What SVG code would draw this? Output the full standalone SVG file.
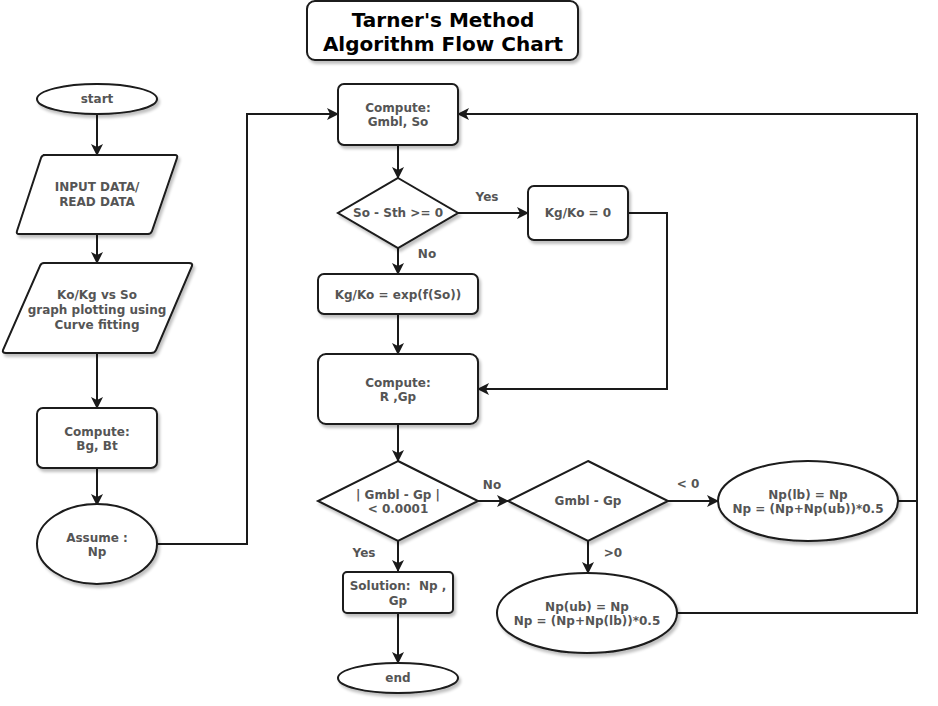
<svg xmlns="http://www.w3.org/2000/svg" width="938" height="706" viewBox="0 0 938 706">
<defs>
<filter id="sh" x="-10%" y="-10%" width="130%" height="140%">
<feGaussianBlur in="SourceAlpha" stdDeviation="1.5"/>
<feOffset dx="2" dy="3" result="b"/>
<feComponentTransfer><feFuncA type="linear" slope="0.25"/></feComponentTransfer>
<feMerge><feMergeNode/><feMergeNode in="SourceGraphic"/></feMerge>
</filter>
<marker id="ah" viewBox="0 0 12 12" refX="11" refY="6" markerWidth="12" markerHeight="12" markerUnits="userSpaceOnUse" orient="auto">
<path d="M0,0 L12,6 L0,12 L3,6 Z" fill="#1a1a1a"/>
</marker>
</defs>
<style>
.s{fill:#fff;stroke:#1a1a1a;stroke-width:2;filter:url(#sh)}
.t{font-family:"DejaVu Sans",Verdana,sans-serif;font-weight:bold;font-size:12px;fill:#555;text-anchor:middle}
.lb{font-family:"DejaVu Sans",Verdana,sans-serif;font-weight:bold;font-size:12px;fill:#555;text-anchor:middle}
.c{fill:none;stroke:#1a1a1a;stroke-width:2}
.a{marker-end:url(#ah)}
.ti{font-family:"DejaVu Sans",Verdana,sans-serif;font-weight:bold;font-size:20px;fill:#000;text-anchor:middle}
</style>
<rect width="938" height="706" fill="#fff"/>
<g id="title">
<rect class="s" x="307" y="1" width="271" height="59" rx="8"/>
<text class="ti" x="443" y="27">Tarner's Method</text>
<text class="ti" x="443" y="51">Algorithm Flow Chart</text>
</g>
<g id="connectors">
<path class="c a" d="M97,114 V155"/>
<path class="c a" d="M97,235 V263"/>
<path class="c a" d="M97,353 V408"/>
<path class="c a" d="M97,468 V505"/>
<path class="c a" d="M157,544 H247 V114 H338"/>
<path class="c a" d="M398,145 V178"/>
<path class="c a" d="M458,213 H528"/>
<path class="c a" d="M628,213 H667 V389 H478"/>
<path class="c a" d="M398,247 V274"/>
<path class="c a" d="M398,314 V354"/>
<path class="c a" d="M398,424 V461"/>
<path class="c a" d="M478,501 H508"/>
<path class="c a" d="M668,501 H718"/>
<path class="c a" d="M588,541 V573"/>
<path class="c a" d="M398,541 V571"/>
<path class="c a" d="M398,613 V663"/>
<path class="c" d="M898,501 H917"/>
<path class="c a" d="M677,613 H917 V114 H458"/>
<text class="lb" x="487" y="201">Yes</text>
<text class="lb" x="427" y="258">No</text>
<text class="lb" x="492" y="489">No</text>
<text class="lb" x="688" y="488">&lt; 0</text>
<text class="lb" x="613" y="557">&gt;0</text>
<text class="lb" x="364" y="557">Yes</text>
</g>
<g id="start">
<ellipse class="s" cx="97" cy="99" rx="60" ry="15"/>
<text class="t" x="97" y="103">start</text>
</g>
<g id="input">
<path class="s" d="M43,155 H175 Q178,155 177,158 L152,231 Q151,234 148,234 H19 Q16,234 17,231 L41,158 Q42,155 45,155 Z"/>
<text class="t" x="97" y="191">INPUT DATA/</text>
<text class="t" x="97" y="206">READ DATA</text>
</g>
<g id="curvefit">
<path class="s" d="M44,263 H189 Q193,263 192,266 L156,350 Q155,353 151,353 H6 Q2,353 3,350 L40,266 Q41,263 44,263 Z"/>
<text class="t" x="97" y="299">Ko/Kg vs So</text>
<text class="t" x="97" y="314">graph plotting using</text>
<text class="t" x="97" y="329">Curve fitting</text>
</g>
<g id="bgbt">
<rect class="s" x="37" y="408" width="120" height="60" rx="6"/>
<text class="t" x="97" y="436">Compute:</text>
<text class="t" x="97" y="450">Bg, Bt</text>
</g>
<g id="assume">
<ellipse class="s" cx="97" cy="544" rx="60" ry="40"/>
<text class="t" x="97" y="542">Assume :</text>
<text class="t" x="97" y="556">Np</text>
</g>
<g id="gmblso">
<rect class="s" x="338" y="84" width="120" height="61" rx="6"/>
<text class="t" x="398" y="112">Compute:</text>
<text class="t" x="398" y="126">Gmbl, So</text>
</g>
<g id="dec1">
<path class="s" d="M398,178 L458,213 L398,248 L338,213 Z"/>
<text class="t" x="398" y="217">So - Sth &gt;= 0</text>
</g>
<g id="kgko0">
<rect class="s" x="528" y="186" width="100" height="54" rx="6"/>
<text class="t" x="578" y="217">Kg/Ko = 0</text>
</g>
<g id="kgkoexp">
<rect class="s" x="318" y="274" width="160" height="40" rx="6"/>
<text class="t" x="398" y="299">Kg/Ko = exp(f(So))</text>
</g>
<g id="rgp">
<rect class="s" x="318" y="354" width="160" height="70" rx="8"/>
<text class="t" x="398" y="387">Compute:</text>
<text class="t" x="398" y="401">R ,Gp</text>
</g>
<g id="dec2">
<path class="s" d="M398,461 L478,501 L398,541 L318,501 Z"/>
<text class="t" x="398" y="499">| Gmbl - Gp |</text>
<text class="t" x="398" y="513">&lt; 0.0001</text>
</g>
<g id="dec3">
<path class="s" d="M588,461 L668,501 L588,541 L508,501 Z"/>
<text class="t" x="588" y="505">Gmbl - Gp</text>
</g>
<g id="lb">
<ellipse class="s" cx="808" cy="501" rx="90" ry="40"/>
<text class="t" x="808" y="499">Np(lb) = Np</text>
<text class="t" x="808" y="513">Np = (Np+Np(ub))*0.5</text>
</g>
<g id="ub">
<ellipse class="s" cx="587" cy="613" rx="90" ry="40"/>
<text class="t" x="587" y="611">Np(ub) = Np</text>
<text class="t" x="587" y="625">Np = (Np+Np(lb))*0.5</text>
</g>
<g id="solution">
<rect class="s" x="343" y="572" width="110" height="41" rx="4"/>
<text class="t" x="398" y="590" xml:space="preserve">Solution:  Np ,</text>
<text class="t" x="398" y="605">Gp</text>
</g>
<g id="end">
<ellipse class="s" cx="398" cy="678" rx="60" ry="15"/>
<text class="t" x="398" y="682">end</text>
</g>
</svg>
